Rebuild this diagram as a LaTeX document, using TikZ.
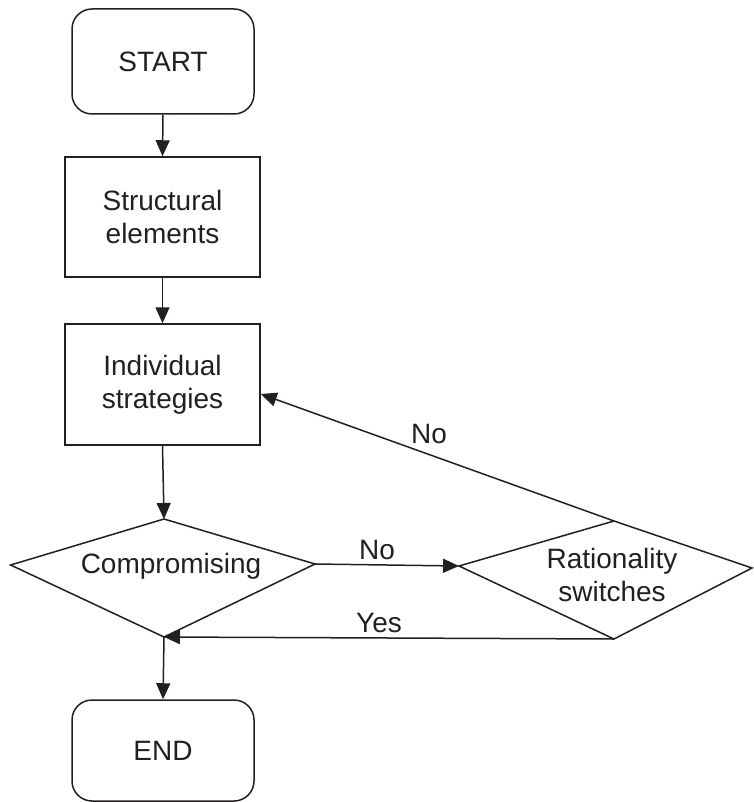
\documentclass[tikz,border=0pt]{standalone}
\usepackage{fontspec}
\setmainfont{Liberation Sans}
\usetikzlibrary{arrows.meta}
\definecolor{ink}{HTML}{231F20}
\tikzset{
  base/.style={draw=ink, line width=1.5pt, text=ink, inner sep=0pt, align=center,
    font=\fontsize{28}{33}\selectfont},
  termbox/.style={base, rectangle, rounded corners=20pt},
  procbox/.style={base, rectangle},
  lbl/.style={text=ink, inner sep=0pt, font=\fontsize{28}{33}\selectfont, align=center},
  conn/.style={draw=ink, line width=1.5pt, -{Triangle[length=16pt,width=14pt]}},
  edge/.style={draw=ink, line width=1.5pt, line join=miter}
}
\begin{document}
\begin{tikzpicture}[x=1pt,y=-1pt]
\useasboundingbox (0,0) rectangle (753,802);
% boxes
\node[termbox, minimum width=182pt, minimum height=105pt] (start) at (163,61.5) {START};
\node[procbox, minimum width=195pt, minimum height=120pt] (struct) at (162.5,217) {Structural\\elements};
\node[procbox, minimum width=195pt, minimum height=121pt] (indiv) at (162.5,384.5) {Individual\\strategies};
\node[termbox, minimum width=182pt, minimum height=101pt] (end) at (163,750.5) {END};
% compromising diamond
\coordinate (cT) at (164,519);
\coordinate (cL) at (10.6,565);
\coordinate (cR) at (315,564);
\coordinate (cB) at (164,637);
\draw[edge] (cT) -- (cR) -- (cB) -- (cL) -- cycle;
\node[lbl] (comp) at (171,566) {Compromising};
% rationality diamond
\coordinate (rT) at (614,521);
\coordinate (rL) at (459,566);
\coordinate (rR) at (752,568);
\coordinate (rB) at (614,639);
\draw[edge] (rT) -- (rR) -- (rB) -- (rL) -- cycle;
\node[lbl] (rat) at (612,575) {Rationality\\switches};
% connectors
\draw[conn] (start.south) -- (struct.north);
\draw[conn] (struct.south) -- (indiv.north);
\draw[conn] (indiv.south) -- (cT);
\draw[conn] (cR) -- (rL);
\draw[conn] (rB) -- (cB);
\draw[conn] (cB) -- (end.north);
\draw[conn] (rT) -- ([yshift=-9.5pt]indiv.east);
% labels
\node[lbl] (no1) at (377,550) {No};
\node[lbl] (yes) at (379,623) {Yes};
\node[lbl] (no2) at (429,434) {No};
\end{tikzpicture}
\end{document}
